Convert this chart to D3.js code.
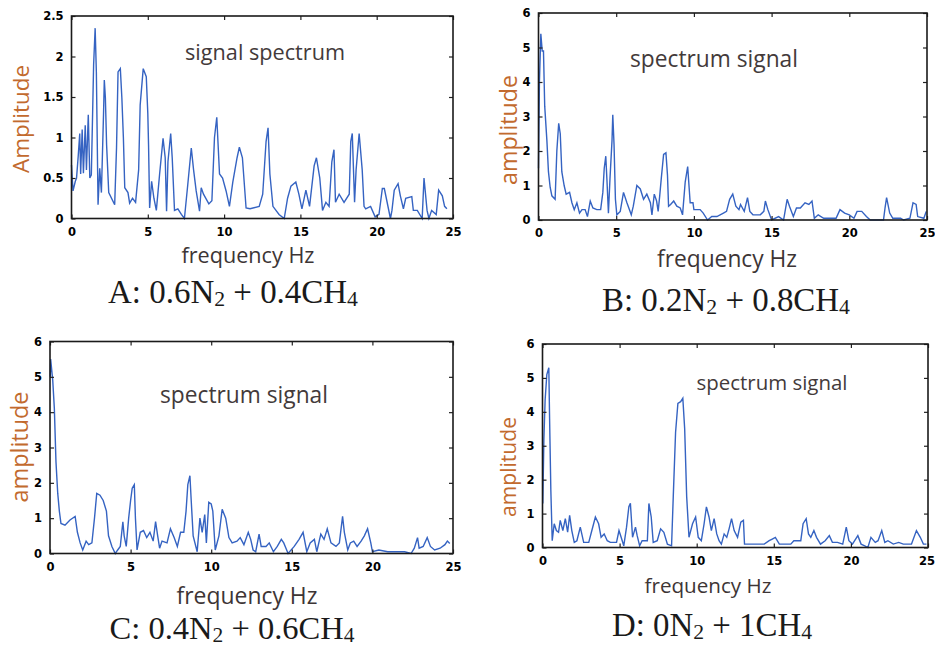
<!DOCTYPE html>
<html><head><meta charset="utf-8">
<script src="https://cdn.jsdelivr.net/npm/d3@7"></script>
<style>body{margin:0;background:#fff}svg{display:block}</style>
</head><body>
<svg id="c" width="935" height="647"></svg>
<script>
// ---------- data ----------
const xTicks = [0,5,10,15,20,25];
const yTicksA = [0,0.5,1,1.5,2,2.5];
const yTicksBCD = [0,1,2,3,4,5,6];

const freqA = [0,0.1,0.25,0.33,0.44,0.54,0.6,0.7,0.78,0.9,0.98,1.1,1.2,1.3,1.45,1.55,1.63,1.74,1.85,1.96,2.1,2.15,2.22,2.3,2.44,2.83,2.95,3.05,3.2,3.3,3.4,3.49,3.7,3.81,4.0,4.2,4.4,4.5,4.7,4.9,5.0,5.05,5.12,5.25,5.4,5.56,5.77,6.0,6.14,6.23,6.32,6.5,6.6,6.75,6.97,7.2,7.4,7.62,7.85,8.0,8.17,8.39,8.5,8.65,9.0,9.2,9.37,9.52,9.7,9.9,10.13,10.35,10.57,10.85,11.0,11.2,11.44,11.7,12.3,12.53,12.75,12.88,13.0,13.2,13.6,13.94,14.16,14.38,14.7,14.9,15.1,15.36,15.6,15.9,16.05,16.27,16.45,16.67,16.88,17.06,17.2,17.3,17.54,17.86,18.2,18.3,18.4,18.55,18.65,18.85,19.05,19.17,19.28,19.6,19.9,20.15,20.37,20.5,20.9,21.0,21.15,21.4,21.55,21.75,21.9,22.3,22.4,22.66,22.98,23.1,23.3,23.42,23.6,23.9,24.06,24.3,24.45,24.6,24.75];
const ampA  = [0.66,0.34,0.46,0.5,0.77,1.05,0.55,1.1,0.56,1.15,0.6,1.28,0.5,0.54,1.9,2.35,1.8,0.17,0.62,0.32,1.3,1.71,1.49,0.91,0.32,0.17,0.87,1.81,1.85,1.49,1.0,0.38,0.32,0.19,0.25,0.2,0.6,1.4,1.85,1.75,1.3,0.9,0.13,0.46,0.25,0.1,0.54,0.99,0.75,0.09,0.7,1.05,0.75,0.1,0.12,0.05,0,0.42,0.87,0.6,0.34,0.09,0.38,0.3,0.18,0.22,1.0,1.25,0.55,0.5,0.34,0.15,0.45,0.75,0.88,0.75,0.13,0.12,0.15,0.3,0.95,1.12,0.55,0.15,0.05,0,0.25,0.4,0.45,0.3,0.12,0.35,0.15,0.65,0.75,0.5,0.1,0.2,0.15,0.7,0.85,0.2,0.3,0.2,0.3,0.95,1.05,0.2,0.6,1.05,0.6,0.15,0.12,0.15,0.02,0.05,0.37,0.37,0,0.1,0.35,0.43,0.28,0.12,0.25,0.27,0.1,0.1,0,0.5,0.1,0,0.1,0.05,0.35,0.28,0.15,0.12];

const freqB = [0,0.06,0.15,0.24,0.32,0.4,0.54,0.64,0.75,0.86,1.07,1.18,1.3,1.4,1.5,1.65,1.78,2.0,2.15,2.3,2.47,2.64,2.8,3.0,3.15,3.33,3.5,3.75,4.0,4.14,4.23,4.33,4.4,4.5,4.6,4.73,4.78,4.86,4.95,5.04,5.26,5.47,5.69,5.97,6.1,6.33,6.55,6.76,6.97,7.2,7.3,7.45,7.6,7.7,7.8,7.9,8.05,8.2,8.3,8.37,8.5,8.7,8.9,9.12,9.27,9.44,9.6,9.76,9.94,10.0,10.4,10.6,10.88,11.15,11.48,11.9,12.1,12.3,12.5,12.7,12.9,13.0,13.24,13.45,13.6,13.8,14.27,14.5,14.6,14.76,15.0,15.45,15.77,16.0,16.15,16.4,16.6,16.85,17.15,17.4,17.6,17.75,18.0,18.35,18.8,19.15,19.4,19.7,20.0,20.3,20.5,20.8,21.1,21.35,22.2,22.3,22.4,22.6,22.8,23.3,23.5,23.9,24.1,24.3,24.4,24.8,24.95];
const ampB  = [1.5,4.0,5.4,4.9,4.9,3.3,2.3,1.4,0.95,0.7,0.6,2.0,2.8,2.5,1.4,1.0,0.75,0.8,0.5,0.3,0.5,0.2,0.3,0.3,0.1,0.55,0.35,0.3,0.3,0.8,1.5,1.85,1.2,0.2,1.2,2.3,3.05,2.2,0.6,0.15,0.25,0.8,0.5,0.15,0.4,1.0,0.9,0.6,0.75,0.5,0.15,0.75,0.55,0.25,0.7,1.2,1.9,1.95,1.3,0.4,0.45,0.55,0.4,0.35,0.15,1.1,1.55,0.5,0.5,0.3,0.3,0.2,0.0,0.1,0.1,0.2,0.25,0.6,0.75,0.4,0.3,0.45,0.25,0.65,0.25,0.15,0.15,0.25,0.55,0.3,0.0,0.1,0.0,0.6,0.4,0.1,0.35,0.35,0.5,0.45,0.55,0.05,0.15,0.05,0.05,0.05,0.3,0.2,0.15,0.05,0.25,0.25,0.1,0.0,0.0,0.35,0.65,0.2,0.05,0.05,0.0,0.05,0.5,0.45,0.1,0.05,0.25];

const freqC = [0.02,0.04,0.17,0.27,0.37,0.48,0.58,0.68,0.93,1.24,1.56,1.7,1.87,2.03,2.24,2.4,2.6,2.76,2.9,3.1,3.3,3.5,3.63,3.84,4.05,4.2,4.36,4.52,4.6,4.73,4.88,5.0,5.1,5.23,5.3,5.4,5.6,5.8,6.0,6.2,6.4,6.55,6.68,6.8,6.95,7.26,7.47,7.7,7.9,8.1,8.3,8.44,8.55,8.68,8.76,8.88,9.13,9.3,9.44,9.6,9.7,9.85,10.0,10.1,10.25,10.48,10.68,10.9,11.1,11.3,11.6,11.8,12.03,12.3,12.45,12.6,12.76,12.97,13.1,13.4,13.6,13.86,14.1,14.35,14.5,14.77,15.15,15.45,15.7,15.93,16.14,16.4,16.55,16.8,17.0,17.2,17.43,17.74,17.95,18.15,18.26,18.47,18.63,18.84,19.05,19.3,19.5,19.7,19.9,20.0,20.4,20.95,21.47,22.0,22.4,22.6,22.8,22.9,23.15,23.4,23.6,23.86,24.2,24.5,24.65,24.8];
const ampC  = [5.0,5.5,4.9,4.1,2.6,1.7,1.2,0.85,0.8,0.95,1.05,0.6,0.3,0.1,0.35,0.25,0.3,1.0,1.7,1.65,1.5,1.2,0.5,0.2,0.0,0.1,0.2,0.9,0.5,0.2,1.0,1.5,1.85,1.95,1.0,0.1,0.6,0.65,0.45,0.6,0.35,0.9,0.5,0.15,0.35,0.3,0.7,0.45,0.2,0.6,0.6,1.2,1.95,2.2,1.5,0.5,0.05,1.0,0.6,1.1,0.3,1.45,1.4,1.2,0.1,0.5,1.25,1.0,0.45,0.3,0.35,0.45,0.25,0.6,0.4,0.1,0.05,0.55,0.2,0.2,0.3,0.05,0.2,0.4,0.3,0.0,0.2,0.4,0.6,0.05,0.3,0.4,0.05,0.55,0.4,0.7,0.3,0.2,0.3,1.05,0.6,0.1,0.3,0.35,0.2,0.35,0.5,0.7,0.3,0.05,0.1,0.05,0.05,0.05,0.0,0.15,0.45,0.15,0.2,0.45,0.2,0.1,0.15,0.25,0.35,0.28];

const freqD = [0.02,0.09,0.17,0.28,0.41,0.46,0.54,0.63,0.76,0.9,1.04,1.15,1.32,1.48,1.63,1.76,1.9,2.06,2.23,2.45,2.67,3.0,3.2,3.43,3.64,3.8,4.0,4.2,4.4,4.8,4.96,5.1,5.27,5.45,5.6,5.7,5.84,6.03,6.14,6.3,6.46,6.8,6.9,7.05,7.18,7.44,7.66,7.87,8.1,8.37,8.48,8.63,8.78,8.96,9.1,9.22,9.35,9.5,9.73,9.93,10.1,10.3,10.48,10.63,10.8,10.95,11.13,11.3,11.45,11.6,11.78,11.95,12.1,12.26,12.43,12.65,12.86,13.03,13.1,13.73,14.38,14.7,14.9,15.1,15.36,16.1,16.3,16.75,16.9,17.1,17.25,17.4,17.6,17.77,18.03,18.33,18.6,18.8,19.13,19.47,19.7,19.87,20.1,20.45,20.66,20.9,21.1,21.3,21.58,21.76,22.0,22.2,22.4,22.75,23.1,23.4,23.7,23.93,24.25,24.5,24.7,24.9];
const ampD  = [1.3,3.2,4.35,5.1,5.3,3.8,1.7,0.2,0.7,0.5,0.45,0.8,0.5,0.85,0.45,0.95,0.5,0.15,0.2,0.6,0.15,0.15,0.5,0.9,0.7,0.3,0.4,0.2,0.15,0.15,0.5,0.3,0.05,0.6,1.2,1.3,0.3,0.6,0.35,0.05,0.2,0.2,1.3,0.9,0.15,0.2,0.55,0.45,0.1,0.05,1.5,3.4,4.25,4.3,4.4,3.5,1.5,0.3,0.7,0.9,0.3,0.2,0.7,1.2,0.9,0.5,0.85,0.4,0.2,0.1,0.4,0.3,0.55,0.85,0.5,0.3,0.75,0.8,0.1,0.1,0.1,0.2,0.25,0.3,0.1,0.1,0.2,0.2,0.7,0.85,0.4,0.3,0.5,0.3,0.1,0.2,0.35,0.15,0.15,0.1,0.6,0.2,0.1,0.35,0.1,0.05,0.0,0.3,0.15,0.2,0.5,0.15,0.2,0.1,0.15,0.1,0.1,0.1,0.5,0.3,0.1,0.1];

const titles  = ["signal spectrum","spectrum signal","spectrum signal","spectrum signal"];
const yLabels = ["Amplitude","amplitude","amplitude","amplitude"];
const xLabel  = "frequency Hz";
const captions = [
  ["A: 0.6N","2"," + 0.4CH","4"],
  ["B: 0.2N","2"," + 0.8CH","4"],
  ["C: 0.4N","2"," + 0.6CH","4"],
  ["D: 0N","2"," + 1CH","4"]
];

// ---------- layout ----------
const panels = [
  {f:freqA,a:ampA,yMax:2.5,yt:yTicksA,x0:71.5,x1:453,y0:16,y1:218.5,
   title:{cx:265,by:60,w:160},ylab:{cx:21,cy:119,w:108},xlab:{cx:248,by:263,w:133},cap:{cx:233,by:303,w:250}},
  {f:freqB,a:ampB,yMax:6,yt:yTicksBCD,x0:538.5,x1:927,y0:13,y1:220,
   title:{cx:714,by:67,w:168},ylab:{cx:509,cy:130,w:110},xlab:{cx:727,by:267,w:140},cap:{cx:726,by:311,w:248}},
  {f:freqC,a:ampC,yMax:6,yt:yTicksBCD,x0:50,x1:453,y0:341.5,y1:553.5,
   title:{cx:244,by:403,w:168},ylab:{cx:20,cy:447,w:111},xlab:{cx:247,by:604,w:141},cap:{cx:232,by:639,w:245}},
  {f:freqD,a:ampD,yMax:6,yt:yTicksBCD,x0:542.5,x1:928,y0:344,y1:547.5,
   title:{cx:772,by:390,w:151},ylab:{cx:509,cy:467,w:100},xlab:{cx:708,by:593,w:127},cap:{cx:712,by:636,w:200}}
];

const svg = d3.select("#c");

function fit(t, w){
  t.attr("font-size",20);
  const l = t.node().getComputedTextLength();
  const fs = 20*w/l;
  t.attr("font-size", fs.toFixed(2));
  return fs;
}

panels.forEach((p,i)=>{
  const x = d3.scaleLinear().domain([0,25]).range([p.x0,p.x1]);
  const y = d3.scaleLinear().domain([0,p.yMax]).range([p.y1,p.y0]);
  const g = svg.append("g");

  // line
  const data = p.f.map((v,k)=>[v,p.a[k]]);
  g.append("path").datum(data)
    .attr("fill","none").attr("stroke","#3563c2").attr("stroke-width",1.4)
    .attr("stroke-linejoin","miter")
    .attr("d", d3.line().x(d=>x(d[0])).y(d=>y(d[1])));

  // axes with inward ticks
  const styleAxis = sel=>{
    sel.select(".domain").remove();
    sel.selectAll(".tick line").attr("stroke","#222").attr("stroke-width",1.2);
    sel.selectAll("text").attr("font-family","DejaVu Sans").attr("font-weight","bold")
      .attr("font-size",11.5).attr("fill","#000");
  };
  const bx = g.append("g").attr("transform",`translate(0,${p.y1})`)
    .call(d3.axisBottom(x).tickValues(xTicks).tickFormat(d3.format("d")).tickSizeInner(-4).tickSizeOuter(0).tickPadding(9))
    .call(styleAxis);
  // keep the last label inside the window
  bx.selectAll(".tick text").filter(d=>x(d)+8>935).attr("text-anchor","end").attr("x",935-x(25)-0.5);
  g.append("g").attr("transform",`translate(0,${p.y0})`)
    .call(d3.axisTop(x).tickValues(xTicks).tickFormat("").tickSizeInner(-4).tickSizeOuter(0))
    .call(styleAxis);
  g.append("g").attr("transform",`translate(${p.x0},0)`)
    .call(d3.axisLeft(y).tickValues(p.yt).tickFormat(d3.format("")).tickSizeInner(-4).tickSizeOuter(0).tickPadding(8))
    .call(styleAxis);
  g.append("g").attr("transform",`translate(${p.x1},0)`)
    .call(d3.axisRight(y).tickValues(p.yt).tickFormat("").tickSizeInner(-4).tickSizeOuter(0))
    .call(styleAxis);

  // frame
  g.append("rect").attr("x",p.x0).attr("y",p.y0).attr("width",p.x1-p.x0).attr("height",p.y1-p.y0)
    .attr("fill","none").attr("stroke","#1a1a1a").attr("stroke-width",1.6);

  // title
  const tt = g.append("text").attr("x",p.title.cx).attr("y",p.title.by).attr("text-anchor","middle")
    .attr("font-family","Open Sans").attr("fill","#433a3a").text(titles[i]);
  fit(tt,p.title.w);

  // x label
  const xl = g.append("text").attr("x",p.xlab.cx).attr("y",p.xlab.by).attr("text-anchor","middle")
    .attr("font-family","Open Sans").attr("fill","#3d3535").text(xLabel);
  fit(xl,p.xlab.w);

  // y label
  const yl = g.append("text").attr("transform",`translate(${p.ylab.cx},${p.ylab.cy}) rotate(-90)`)
    .attr("text-anchor","middle").attr("dy","0.35em")
    .attr("font-family","Open Sans").attr("fill","#c26a2e").text(yLabels[i]);
  fit(yl,p.ylab.w);

  // caption
  const c = captions[i];
  const ct = g.append("text").attr("x",p.cap.cx).attr("y",p.cap.by).attr("text-anchor","middle")
    .attr("font-family","Liberation Serif").attr("fill","#1a1a1a");
  ct.append("tspan").text(c[0]);
  const s1 = ct.append("tspan").attr("font-size","0.66em").text(c[1]);
  const m2 = ct.append("tspan").text(c[2]);
  const s2 = ct.append("tspan").attr("font-size","0.66em").text(c[3]);
  const fs = fit(ct,p.cap.w);
  const sh = (fs*0.09).toFixed(2);
  s1.attr("dy",sh); m2.attr("dy",-sh); s2.attr("dy",sh);
});
</script>
</body></html>
